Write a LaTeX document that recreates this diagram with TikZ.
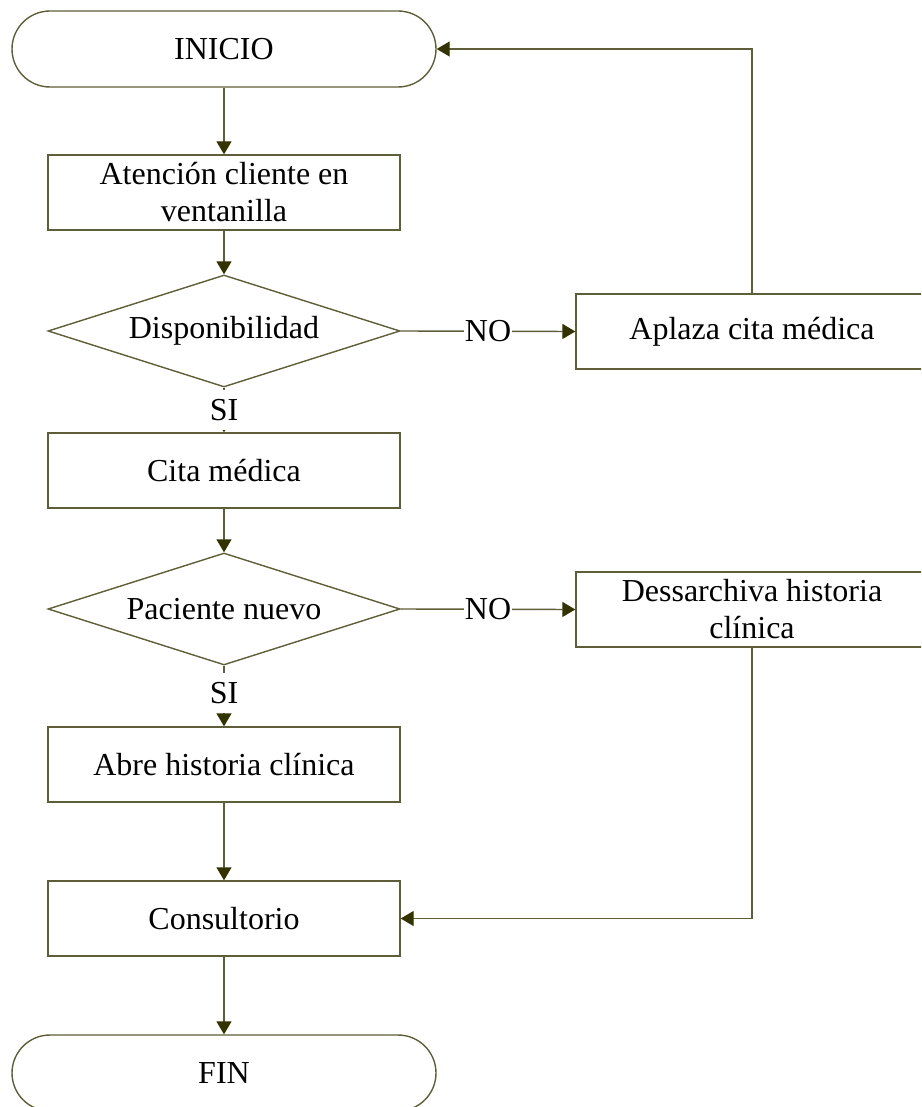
\documentclass[tikz,border=0pt]{standalone}
\usepackage{fontspec}
\setmainfont{Liberation Serif}
\usetikzlibrary{shapes.geometric,arrows.meta}
\definecolor{edge}{RGB}{94,94,56}
\definecolor{tip}{RGB}{51,51,0}
\begin{document}
\begin{tikzpicture}[x=1pt,y=-1pt,
  every node/.style={font=\fontsize{32}{37}\selectfont},
  terminal/.style={draw=edge,line width=1.4pt,rectangle,rounded corners=38pt,
    minimum width=424pt,minimum height=76pt,inner sep=0pt},
  process/.style={draw=edge,line width=1.4pt,rectangle,minimum width=352pt,
    minimum height=75pt,inner sep=0pt,align=center},
  decision/.style={draw=edge,line width=1.4pt,diamond,aspect=3.14,
    minimum width=352pt,minimum height=112pt,inner sep=0pt},
  flow/.style={draw=edge,line width=1.4pt,
    -{Triangle[length=13pt,width=15pt,color=tip,fill=tip]}},
  tag/.style={fill=white,inner sep=2pt,minimum height=40pt}]
\clip (0,0) rectangle (921,1107);
\fill[white] (0,0) rectangle (921,1107);

% main column
\node[terminal] (inicio) at (224,49) {INICIO};
\node[process] (atencion) at (224,192.5) {Atención cliente en\\ventanilla};
\node[decision] (disp) at (224,331) {Disponibilidad};
\node[process] (cita) at (224,470.5) {Cita médica};
\node[decision] (paciente) at (224,609) {Paciente nuevo};
\node[process] (abre) at (224,764.5) {Abre historia clínica};
\node[process] (consultorio) at (224,918.5) {Consultorio};
\node[terminal] (fin) at (224,1073) {FIN};

% side column
\node[process] (aplaza) at (752,331.5) {Aplaza cita médica};
\node[process] (dess) at (752,609.5) {Dessarchiva historia\\clínica};

% connectors
\draw[flow] (inicio) -- (atencion);
\draw[flow] (atencion) -- (disp);
\draw[flow] (disp.east) -- (aplaza.west) node[midway,fill=white,inner sep=1pt] {NO};
\draw[flow] (aplaza.north) |- (inicio.east);
\draw[flow] (disp.south) -- (cita.north) node[tag,pos=0.5] {SI};
\draw[flow] (cita) -- (paciente);
\draw[flow] (paciente.east) -- (dess.west) node[midway,fill=white,inner sep=1pt] {NO};
\draw[flow] (paciente.south) -- (abre.north) node[tag,pos=0.45] {SI};
\draw[flow] (abre) -- (consultorio);
\draw[flow] (dess.south) |- (consultorio.east);
\draw[flow] (consultorio) -- (fin);
\end{tikzpicture}
\end{document}
